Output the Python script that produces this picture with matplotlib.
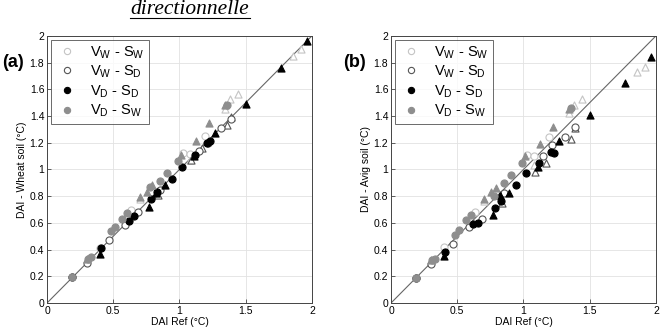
import matplotlib
matplotlib.use("Agg")
import matplotlib.pyplot as plt
from matplotlib.lines import Line2D

# ── data (DAI Ref on x, panel a = Wheat soil, panel b = Avig soil) ──
# V_W - S_W (light open)
ww_cx = [0.40, 0.634, 1.03, 1.08, 1.195]
ww_ca = [0.41, 0.70, 1.12, 1.115, 1.25]
ww_cb = [0.42, 0.68, 1.105, 1.10, 1.245]
ww_tx = [0.70, 1.08, 1.34, 1.38, 1.44, 1.86, 1.92]
ww_ta = [0.775, 1.07, 1.45, 1.525, 1.565, 1.85, 1.90]
ww_tb = [0.765, 1.03, 1.42, 1.48, 1.53, 1.73, 1.77]

# V_W - S_D (dark open)
wd_cx = [0.30, 0.465, 0.585, 0.685, 0.85, 1.15, 1.215, 1.31, 1.39]
wd_ca = [0.30, 0.47, 0.585, 0.68, 0.845, 1.14, 1.195, 1.31, 1.38]
wd_cb = [0.295, 0.44, 0.57, 0.63, 0.82, 1.10, 1.18, 1.245, 1.32]
wd_tx = [0.835, 1.085, 1.17, 1.355, 1.39]
wd_ta = [0.81, 1.07, 1.16, 1.33, 1.39]
wd_tb = [0.745, 0.98, 1.05, 1.225, 1.31]

# V_D - S_D (black filled)
dd_cx = [0.19, 0.405, 0.62, 0.66, 0.785, 0.83, 0.94, 1.02, 1.115, 1.21, 1.23]
dd_ca = [0.195, 0.41, 0.615, 0.65, 0.78, 0.83, 0.93, 1.015, 1.11, 1.20, 1.215]
dd_cb = [0.19, 0.38, 0.59, 0.60, 0.715, 0.76, 0.88, 0.97, 1.045, 1.13, 1.12]
dd_tx = [0.40, 0.77, 0.825, 0.89, 1.11, 1.27, 1.50, 1.77, 1.965]
dd_ta = [0.37, 0.72, 0.82, 0.88, 1.10, 1.275, 1.49, 1.76, 1.96]
dd_tb = [0.35, 0.66, 0.81, 0.82, 1.02, 1.21, 1.41, 1.645, 1.84]

# V_D - S_W (gray filled)
dw_cx = [0.19, 0.31, 0.33, 0.48, 0.515, 0.565, 0.60, 0.78, 0.855, 0.905, 0.99, 1.36]
dw_ca = [0.195, 0.33, 0.345, 0.54, 0.57, 0.63, 0.675, 0.87, 0.91, 0.97, 1.06, 1.48]
dw_cb = [0.19, 0.32, 0.33, 0.51, 0.55, 0.62, 0.66, 0.80, 0.90, 0.955, 1.045, 1.46]
dw_tx = [0.30, 0.705, 0.755, 0.79, 1.01, 1.125, 1.22, 1.345]
dw_ta = [0.33, 0.795, 0.83, 0.88, 1.11, 1.21, 1.345, 1.48]
dw_tb = [0.32, 0.78, 0.83, 0.86, 1.10, 1.19, 1.32, 1.455]

labels = [r"V$_\mathrm{W}$ - S$_\mathrm{W}$", r"V$_\mathrm{W}$ - S$_\mathrm{D}$",
          r"V$_\mathrm{D}$ - S$_\mathrm{D}$", r"V$_\mathrm{D}$ - S$_\mathrm{W}$"]

# (face, edge) per series
styles = [("white", "#c4c4c4"), ("white", "#555555"), ("black", "black"), ("#8e8e8e", "#8e8e8e")]

plt.rcParams["font.family"] = ["Liberation Sans", "DejaVu Sans"]
plt.rcParams["mathtext.fontset"] = "custom"
plt.rcParams["mathtext.rm"] = "Liberation Sans"

fig = plt.figure(figsize=(6.69, 3.31), dpi=100)
ax_a = fig.add_axes([0.0703, 0.0846, 0.396, 0.807])
ax_b = fig.add_axes([0.5845, 0.0846, 0.396, 0.807])

series_a = [(ww_cx, ww_ca, ww_tx, ww_ta), (wd_cx, wd_ca, wd_tx, wd_ta),
            (dd_cx, dd_ca, dd_tx, dd_ta), (dw_cx, dw_ca, dw_tx, dw_ta)]
series_b = [(ww_cx, ww_cb, ww_tx, ww_tb), (wd_cx, wd_cb, wd_tx, wd_tb),
            (dd_cx, dd_cb, dd_tx, dd_tb), (dw_cx, dw_cb, dw_tx, dw_tb)]

for ax, series, ylab in [(ax_a, series_a, "DAI - Wheat soil (°C)"),
                         (ax_b, series_b, "DAI - Avig soil (°C)")]:
    ax.plot([0, 2], [0, 2], color="#666666", lw=0.8, zorder=1)
    handles = []
    for (cx, cy, tx, ty), (fc, ec), lab in zip(series, styles, labels):
        ax.scatter(tx, ty, marker="^", s=26, facecolor=fc, edgecolor=ec, linewidths=0.8, zorder=3)
        ax.scatter(cx, cy, marker="o", s=26, facecolor=fc, edgecolor=ec, linewidths=0.8, zorder=3)
        handles.append(Line2D([], [], ls="none", marker="o", ms=4.5, mfc=fc, mec=ec, mew=0.8, label=lab))
    ax.set_xlim(0, 2)
    ax.set_ylim(0, 2)
    ax.set_xticks([0, 0.5, 1, 1.5, 2])
    ax.set_xticklabels(["0", "0.5", "1", "1.5", "2"])
    ax.set_yticks([0, 0.2, 0.4, 0.6, 0.8, 1, 1.2, 1.4, 1.6, 1.8, 2])
    ax.set_yticklabels(["0", "0.2", "0.4", "0.6", "0.8", "1", "1.2", "1.4", "1.6", "1.8", "2"])
    ax.tick_params(direction="in", labelsize=7.5, length=3, width=0.6, color="#444444", pad=2)
    ax.grid(True, color="#e2e2e2", lw=0.6)
    ax.set_axisbelow(True)
    for sp in ax.spines.values():
        sp.set_color("#444444")
        sp.set_linewidth(0.7)
    ax.set_xlabel("DAI Ref (°C)", fontsize=7.5, labelpad=1)
    ax.set_ylabel(ylab, fontsize=7.5, labelpad=2)
    leg = ax.legend(handles=handles, loc="upper left", fontsize=10.5, frameon=True, fancybox=False,
                    borderaxespad=0.25, handletextpad=0.8, labelspacing=0.2, borderpad=0.3,
                    handlelength=1.6)
    leg.get_frame().set_edgecolor("#444444")
    leg.get_frame().set_linewidth(0.7)

fig.text(0.003, 0.81, "(a)", fontsize=13, fontweight="bold", va="center")
fig.text(0.513, 0.81, "(b)", fontsize=13, fontweight="bold", va="center")

fig.text(0.284, 1.0, "directionnelle", fontsize=15.5, style="italic", family="Liberation Serif",
         ha="center", va="top")
fig.add_artist(Line2D([0.195, 0.373], [0.945, 0.945], color="black", lw=0.8, transform=fig.transFigure))

fig.savefig("out.png", dpi=100)
